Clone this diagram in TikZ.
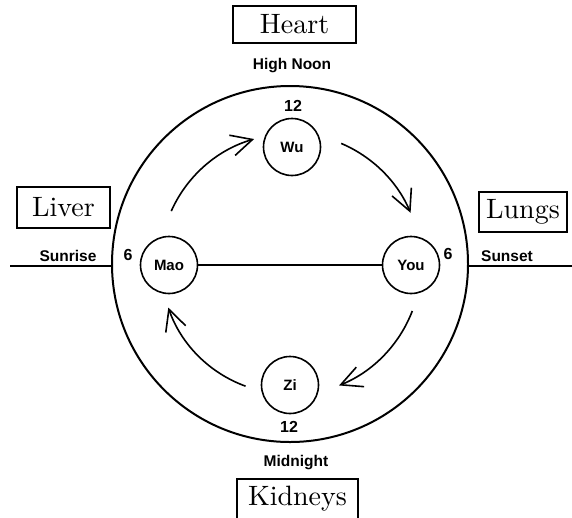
\documentclass[tikz,border=0pt]{standalone}
\usepackage{fontspec}
\newfontfamily\labfont{Liberation Sans}
\newfontfamily\organfont{lmroman10-regular}[Extension=.otf]
\usetikzlibrary{arrows.meta}
\begin{document}
\begin{tikzpicture}[x=1pt,y=-1pt,
  organ/.style={draw, line width=1.5pt, inner sep=0pt, font=\organfont\fontsize{28}{30}\selectfont},
  hour/.style={circle, draw, line width=1.6pt, minimum size=57pt, inner sep=0pt, font=\labfont\bfseries\fontsize{15}{17}\selectfont},
  small/.style={inner sep=0pt, font=\labfont\bfseries\fontsize{15.5}{17}\selectfont},
  num/.style={inner sep=0pt, font=\labfont\bfseries\fontsize{16}{18}\selectfont},
  axis/.style={line width=2pt},
  flow/.style={line width=1.6pt, -{Straight Barb[length=21pt,width=21pt,line width=1.6pt]}}
]
\useasboundingbox (0,0) rectangle (572,517);
\clip (0,0) rectangle (572,517);

% big circle
\coordinate (ctr) at (290,264);
\node[circle, draw, line width=2pt, minimum size=356pt, inner sep=0pt] (big) at (ctr) {};

% hour circles
\node[hour] (wu)  at (292,147) {Wu};
\node[hour] (mao) at (169,265) {Mao};
\node[hour] (you) at (411,265) {You};
\node[hour] (zi)  at (290,385) {Zi};

% horizon line
\coordinate (lineL) at (10,266);
\coordinate (lineR) at (572,266);
\draw[axis] (lineL) -- (big.west |- lineL);
\draw[axis] (big.east |- lineR) -- (lineR);
\draw[axis] (mao.east) -- (you.west);

% organ boxes
\node[organ, minimum width=123pt, minimum height=37pt] (heart)   at (294.5,24.5) {Heart};
\node[organ, minimum width=93pt,  minimum height=41pt] (liver)   at (63.5,207.5) {Liver};
\node[organ, minimum width=88pt,  minimum height=40pt] (lungs)   at (523,212)    {Lungs};
\node[organ, minimum width=121pt, minimum height=40pt] (kidneys) at (297.5,499)  {Kidneys};

% small labels
\node[small] (noon)     at (292,66)  {High Noon};
\node[small] (midnight) at (296,463) {Midnight};
\node[small] (sunrise)  at (68,256)  {Sunrise};
\node[small] (sunset)   at (507,256) {Sunset};
\node[num] (twelvet) at (293,106) {12};
\node[num] (twelveb) at (289,427) {12};
\node[num] (sixl)    at (128,255) {6};
\node[num] (sixr)    at (448,254) {6};

% flow arrows along an inner ring
\coordinate (a1) at ([shift={(-156:130)}]ctr);
\coordinate (a2) at ([shift={(-67:131)}]ctr);
\coordinate (a3) at ([shift={(21:131)}]ctr);
\coordinate (a4) at ([shift={(110:130)}]ctr);
\draw[flow] (a1) arc[start angle=-156, end angle=-106, radius=130];
\draw[flow] (a2) arc[start angle=-67, end angle=-23, radius=131];
\draw[flow] (a3) arc[start angle=21, end angle=68, radius=131];
\draw[flow] (a4) arc[start angle=110, end angle=161, radius=128];
\end{tikzpicture}
\end{document}
